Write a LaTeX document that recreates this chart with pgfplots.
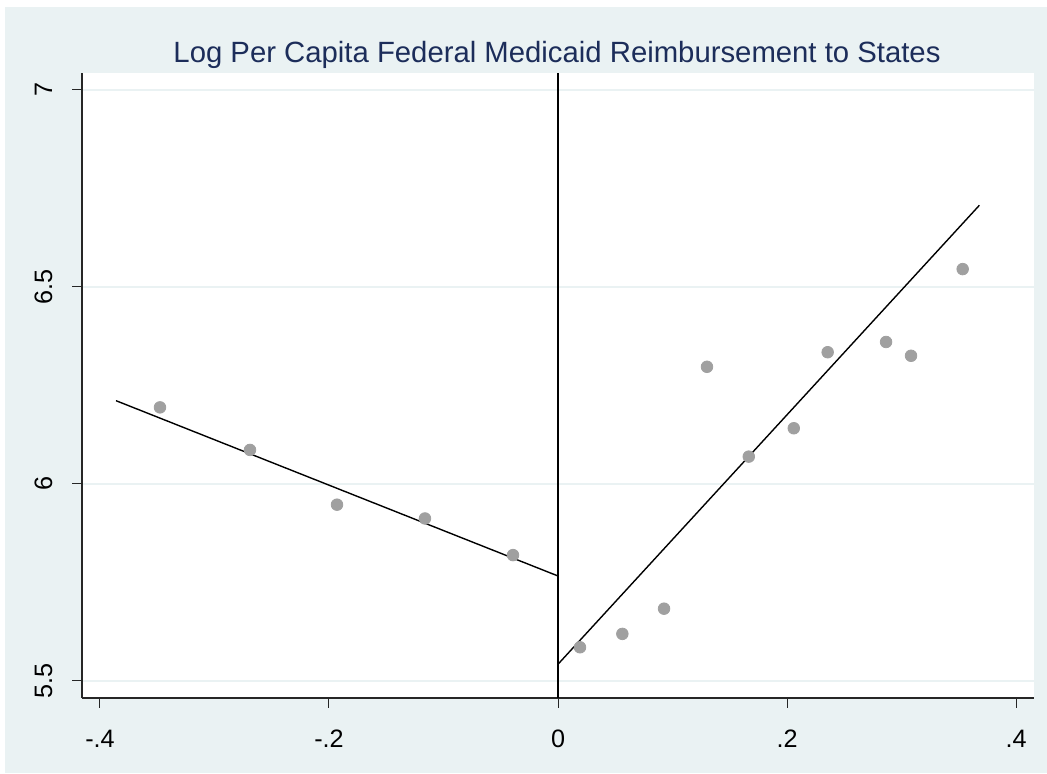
\documentclass[border=0pt]{standalone}
\usepackage{pgfplots}
\pgfplotsset{compat=1.18}
\usepackage{fontspec}
\setmainfont{Liberation Sans}
\definecolor{bgblue}{RGB}{234,242,243}
\definecolor{titlenavy}{RGB}{28,45,90}
\definecolor{markgray}{RGB}{160,160,160}
\begin{document}
\begin{tikzpicture}[x=0.5pt,y=0.5pt]
\useasboundingbox (0,0) rectangle (1047,773);
\fill[white] (0,0) rectangle (1047,773);
\fill[bgblue] (5,0) rectangle (1047,766);
\fill[white] (82,75.3) rectangle (1034,699.7);
\begin{axis}[
  at={(41pt,37.65pt)}, anchor=south west,
  scale only axis, width=476pt, height=312.2pt,
  xmin=-0.4157, xmax=0.4157, ymin=5.457, ymax=7.042,
  axis x line*=bottom, axis y line*=left,
  axis line style={draw=black!85, line width=1pt, -},
  xtick={-0.4,-0.2,0,0.2,0.4}, xticklabels={-.4,-.2,0,.2,.4},
  ytick={5.5,6,6.5,7}, yticklabels={5.5,6,6.5,7},
  tick align=outside, major tick length=5pt,
  tick style={draw=black!85, line width=0.5pt},
  ymajorgrids, grid style={draw=bgblue, line width=1pt},
  ticklabel style={font=\fontsize{12.6}{13}\selectfont},
  xticklabel style={anchor=base, inner sep=0pt},
  xticklabel shift=20pt,
  yticklabel style={rotate=90, anchor=base, inner sep=0pt},
  yticklabel shift=10pt,
]
\addplot[only marks, mark=*, mark size=2.9pt, mark options={fill=markgray, draw=markgray}] table {
x y
-0.3476 6.194
-0.2690 6.086
-0.1930 5.947
-0.1162 5.912
-0.0393 5.819
0.0192 5.585
0.0562 5.619
0.0926 5.683
0.1301 6.297
0.1666 6.069
0.2059 6.141
0.2355 6.334
0.2865 6.360
0.3083 6.325
0.3534 6.545
};
\addplot[black, line width=0.7pt] coordinates {(-0.386,6.211) (0,5.766)};
\addplot[black, line width=0.7pt] coordinates {(0,5.542) (0.368,6.707)};
\addplot[black, line width=0.7pt] coordinates {(0,5.457) (0,7.042)};
\end{axis}
\node[anchor=base, text=titlenavy, font=\fontsize{14.65}{16}\selectfont] at (557,710) {Log Per Capita Federal Medicaid Reimbursement to States};
\end{tikzpicture}
\end{document}
